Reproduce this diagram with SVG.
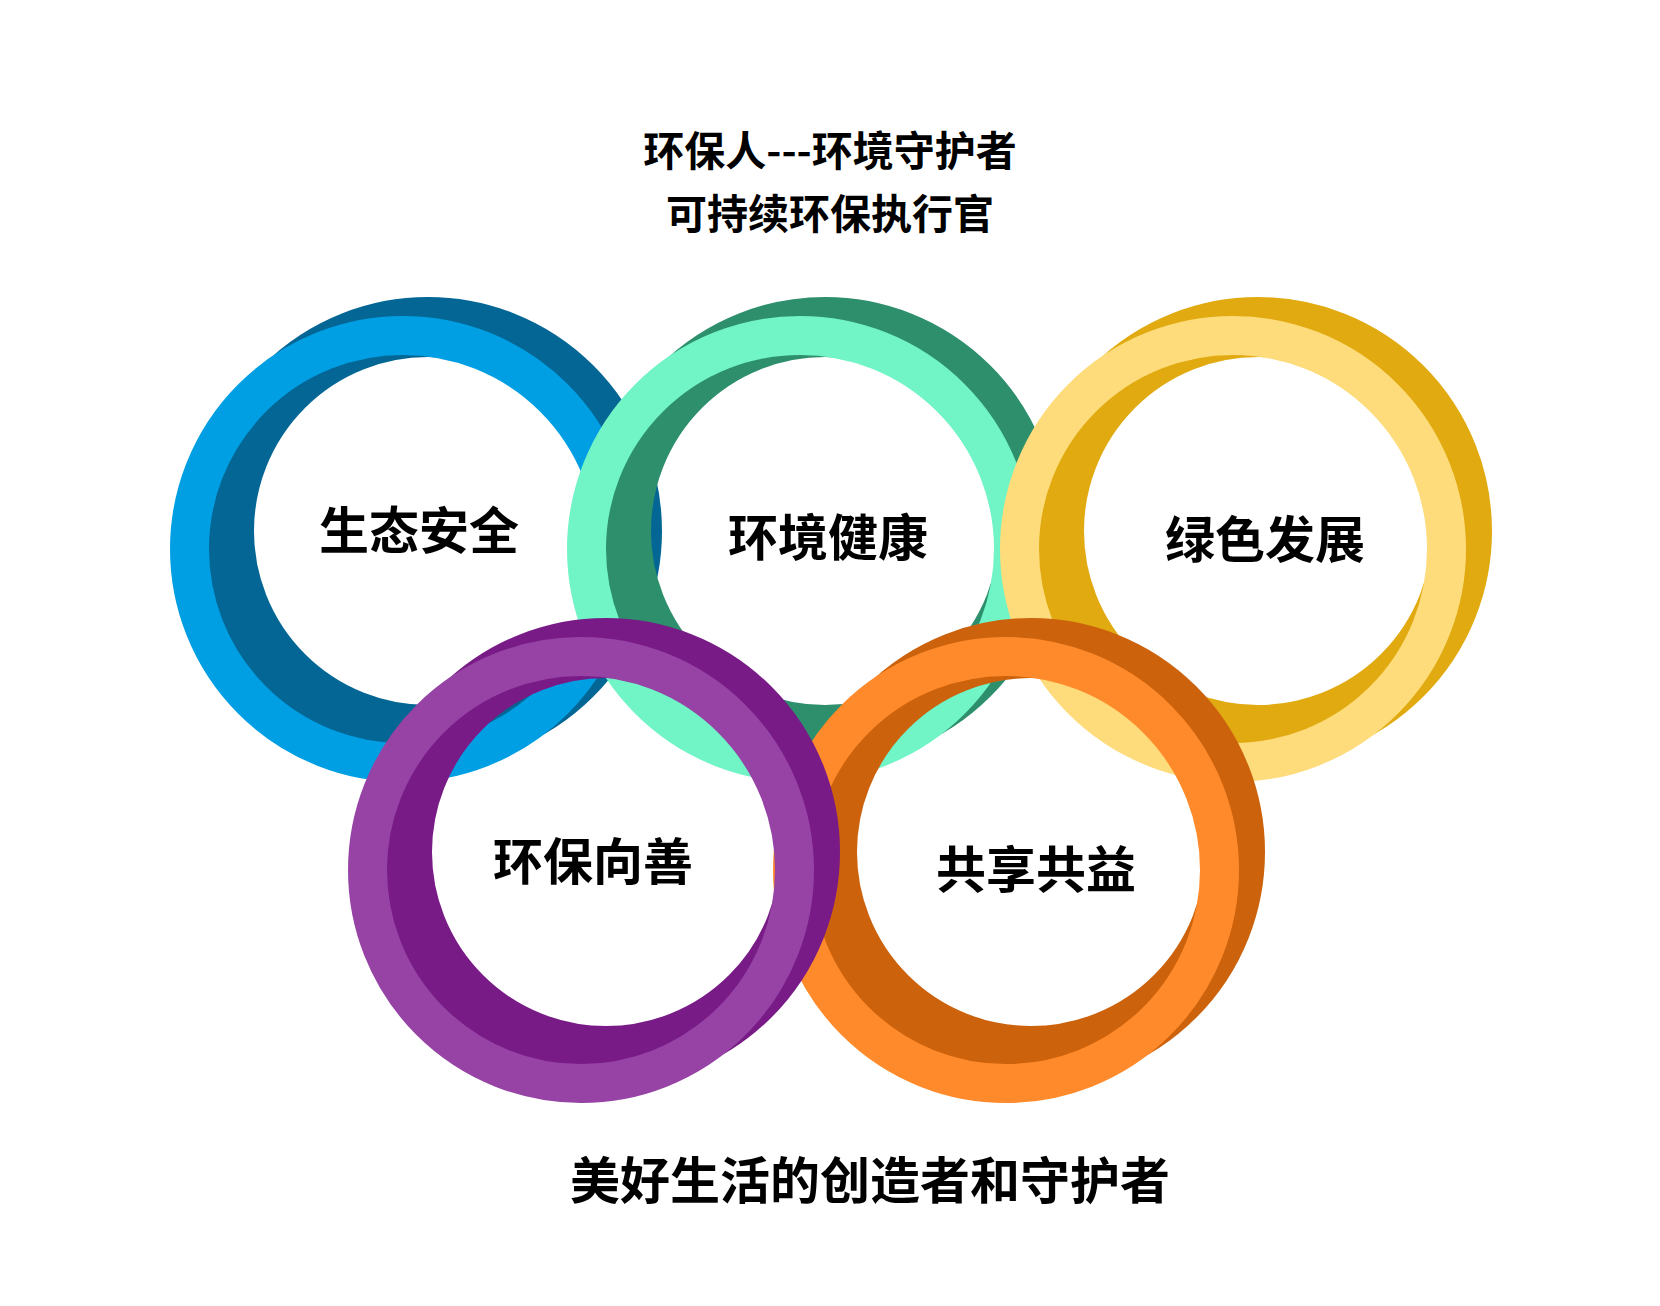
<svg xmlns="http://www.w3.org/2000/svg" width="1660" height="1306" viewBox="0 0 1660 1306">
  <style>
    .back { fill: none; stroke-width: 60; }
    .front { fill: none; stroke-width: 39; }
    .lbl { font-family: "Noto Sans CJK SC", "Noto Sans", sans-serif; font-weight: 700; font-size: 50px; fill: #000; text-anchor: middle; }
    .title { font-family: "Noto Sans CJK SC", "Noto Sans", sans-serif; font-weight: 700; font-size: 41px; fill: #000; text-anchor: middle; }
  </style>
  <rect width="1660" height="1306" fill="#ffffff"/>
  <g id="title">
    <text class="title" x="830" y="166">环保人---环境守护者</text>
    <text class="title" x="830" y="229">可持续环保执行官</text>
  </g>
  <g id="connectors"></g>
  <g id="ring-blue">
    <circle class="back" cx="428" cy="531" r="204" stroke="#036694"/>
    <circle class="front" cx="403" cy="549" r="213.5" stroke="#009FE3"/>
    <text class="lbl" x="419" y="549">生态安全</text>
  </g>
  <g id="ring-green">
    <circle class="back" cx="825" cy="531" r="204" stroke="#2E8F6D"/>
    <circle class="front" cx="800" cy="549" r="213.5" stroke="#71F4C6"/>
    <text class="lbl" x="828" y="556">环境健康</text>
  </g>
  <g id="ring-gold">
    <circle class="back" cx="1258" cy="531" r="204" stroke="#E0AA10"/>
    <circle class="front" cx="1233" cy="549" r="213.5" stroke="#FEDC7B"/>
    <text class="lbl" x="1265" y="558">绿色发展</text>
  </g>
  <g id="ring-orange">
    <circle class="back" cx="1031" cy="852" r="204" stroke="#CC620B"/>
    <circle class="front" cx="1006" cy="870" r="213.5" stroke="#FF8A2B"/>
    <text class="lbl" x="1036" y="888">共享共益</text>
  </g>
  <g id="ring-purple">
    <circle class="back" cx="606" cy="852" r="204" stroke="#781B87"/>
    <circle class="front" cx="581" cy="870" r="213.5" stroke="#9643A5"/>
    <text class="lbl" x="593" y="880">环保向善</text>
  </g>
  <g id="caption">
    <text class="lbl" x="870" y="1199">美好生活的创造者和守护者</text>
  </g>
</svg>
